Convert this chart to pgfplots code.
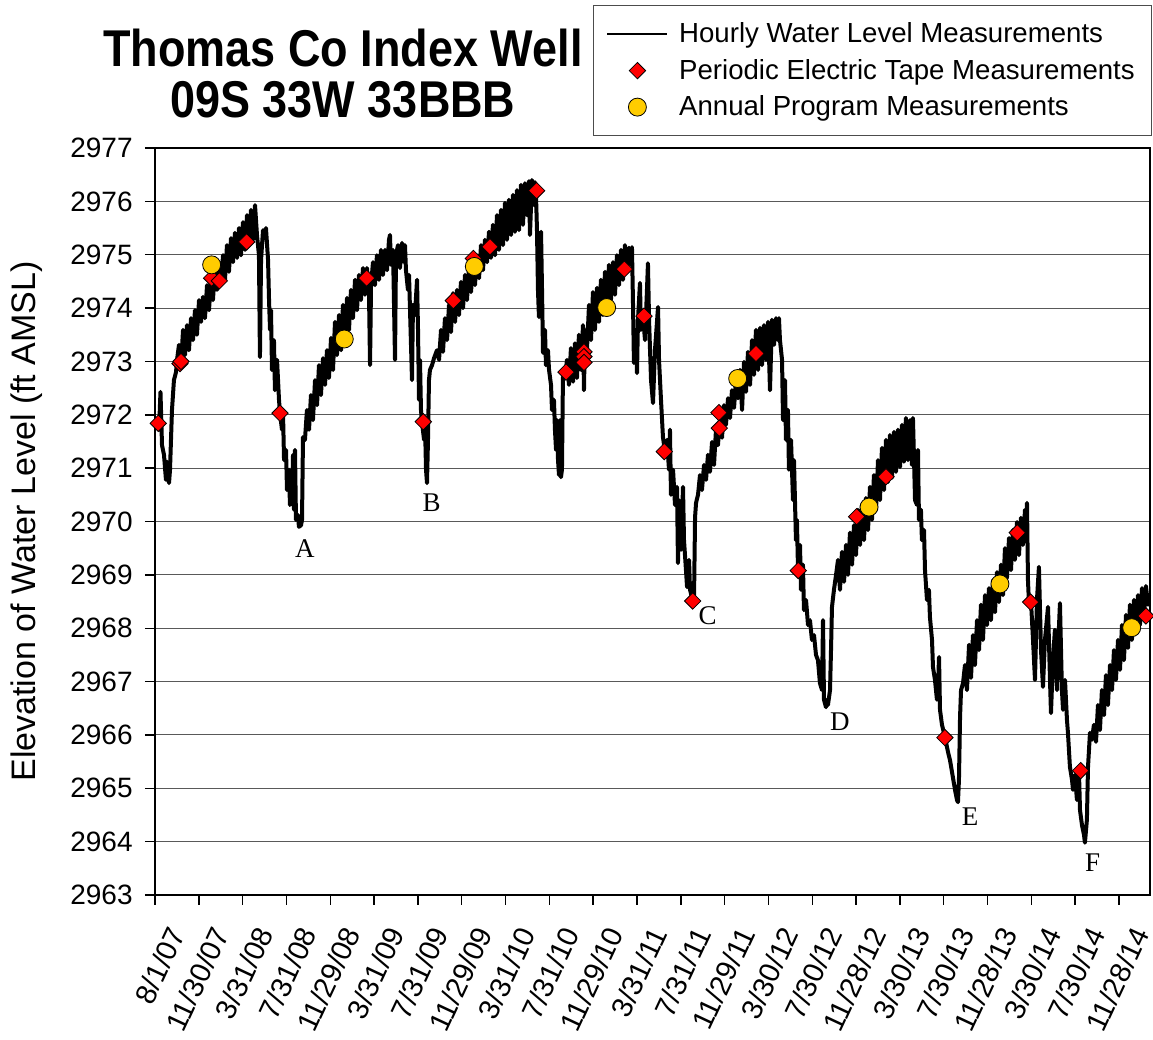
\documentclass[border=0pt]{standalone}
\usepackage{fontspec}
\setmainfont{Liberation Sans}
\newfontfamily\timesfont{Liberation Serif}
\usepackage{graphicx}
\usepackage{pgfplots}
\pgfplotsset{compat=1.18}
\definecolor{mkred}{RGB}{255,0,0}
\definecolor{mkyellow}{RGB}{255,204,0}
\pgfplotsset{
 mylinelegend/.style={legend image code/.code={\draw[black,line width=0.8pt] (0pt,0pt) -- (30pt,0pt);}},
 mymarklegend/.style={legend image code/.code={\draw[mark repeat=2,mark phase=2,##1] plot coordinates {(0pt,0pt) (15pt,0pt) (30pt,0pt)};}},
}
\begin{document}
\begin{tikzpicture}
\path[use as bounding box] (-77.5pt,-72.5pt) rectangle (499pt,447.5pt);
\begin{axis}[
 scale only axis, width=497.5pt, height=373.5pt,
 at={(0pt,0pt)}, anchor=south west,
 xmin=0, xmax=90.83, ymin=2963, ymax=2977,
 xtick={0,4,...,88},
 xticklabels={8/1/07,11/30/07,3/31/08,7/31/08,11/29/08,3/31/09,7/31/09,11/29/09,3/31/10,7/31/10,11/29/10,3/31/11,7/31/11,11/29/11,3/30/12,7/30/12,11/28/12,3/30/13,7/30/13,11/28/13,3/30/14,7/30/14,11/28/14},
 ytick={2963,2964,...,2977},
 tick align=outside, major tick length=5pt,
 xtick pos=left, ytick pos=left,
 ymajorgrids, grid style={black!65, line width=0.5pt},
 axis line style={line width=0.8pt},
 tick style={black, line width=0.7pt},
 /pgf/number format/assume math mode=true,
 /pgf/number format/1000 sep={},
 y tick label style={font=\fontsize{14}{16}\selectfont, inner sep=0pt, xshift=-6pt},
 x tick label style={font=\fontsize{14.5}{16}\selectfont, inner sep=0pt, xshift=6pt, yshift=-9.5pt, rotate=65, anchor=north east},
 ylabel={Elevation of Water Level (ft AMSL)},
 every axis y label/.style={at={(axis description cs:-0.1286,0.5)}, rotate=90, anchor=center, font=\fontsize{17}{20}\selectfont},
 clip=false,
 legend cell align=left,
 legend style={at={(axis description cs:0.4402,1.1914)}, anchor=north west,
   draw=black!70, line width=0.6pt, font=\fontsize{13.8}{16}\selectfont,
   inner xsep=6.5pt, inner ysep=6.5pt, row sep=2.75pt, column sep=3.5pt},
]
\node[font=\timesfont\fontsize{13.5}{16}\selectfont, fill=white, inner sep=0.5pt] at (axis cs:13.69,2969.50) {A};
\node[font=\timesfont\fontsize{13.5}{16}\selectfont, fill=white, inner sep=0.5pt] at (axis cs:25.25,2970.35) {B};
\node[font=\timesfont\fontsize{13.5}{16}\selectfont, fill=white, inner sep=0.5pt] at (axis cs:50.45,2968.23) {C};
\node[font=\timesfont\fontsize{13.5}{16}\selectfont, fill=white, inner sep=0.5pt] at (axis cs:62.53,2966.25) {D};
\node[font=\timesfont\fontsize{13.5}{16}\selectfont, fill=white, inner sep=0.5pt] at (axis cs:74.40,2964.47) {E};
\node[font=\timesfont\fontsize{13.5}{16}\selectfont, fill=white, inner sep=0.5pt] at (axis cs:85.60,2963.60) {F};

\addplot[black, line width=2pt, line join=round, mark=none, mylinelegend] coordinates {
(0.18,2971.90)(0.37,2971.72)(0.50,2972.43)(0.64,2971.43)(0.82,2971.25)(1.00,2970.78)(1.10,2971.12)(1.28,2970.72)(1.37,2970.97)(1.55,2972.09)(1.73,2972.65)(1.92,2972.80)(2.01,2973.03)(2.19,2973.31)(2.37,2972.93)(2.56,2973.59)(2.74,2973.12)(2.92,2973.68)(3.10,2973.21)(3.29,2973.81)(3.47,2973.40)(3.65,2973.96)(3.83,2973.50)(4.02,2974.15)(4.20,2973.74)(4.38,2974.21)(4.56,2973.81)(4.75,2974.43)(4.93,2973.96)(5.11,2974.53)(5.29,2974.15)(5.48,2974.75)(5.66,2974.34)(5.84,2974.86)(6.02,2974.43)(6.21,2974.99)(6.39,2974.53)(6.57,2975.18)(6.75,2974.68)(6.94,2975.31)(7.12,2974.86)(7.30,2975.41)(7.49,2974.94)(7.67,2975.50)(7.85,2974.99)(8.03,2975.61)(8.22,2975.09)(8.40,2975.74)(8.58,2975.18)(8.76,2975.84)(8.95,2975.28)(9.13,2975.93)(9.31,2975.37)(9.49,2974.99)(9.58,2973.08)(9.68,2974.90)(9.86,2975.46)(10.04,2975.31)(10.13,2975.50)(10.32,2974.90)(10.41,2974.15)(10.50,2973.59)(10.59,2973.96)(10.68,2972.84)(10.86,2973.40)(10.95,2972.46)(11.14,2973.03)(11.32,2972.28)(11.41,2972.03)(11.59,2971.72)(11.68,2972.09)(11.78,2971.15)(11.96,2971.34)(12.05,2970.59)(12.23,2970.97)(12.32,2970.31)(12.51,2970.40)(12.60,2971.25)(12.69,2970.22)(12.78,2971.34)(12.87,2970.03)(13.05,2970.12)(13.14,2969.90)(13.33,2969.93)(13.42,2970.03)(13.51,2971.58)(13.69,2971.53)(13.87,2972.09)(14.06,2971.72)(14.24,2972.37)(14.42,2971.90)(14.61,2972.65)(14.79,2972.18)(14.97,2972.93)(15.15,2972.37)(15.34,2973.06)(15.52,2972.56)(15.70,2973.21)(15.88,2972.69)(16.07,2973.44)(16.25,2972.84)(16.43,2973.74)(16.61,2973.12)(16.80,2973.87)(16.98,2973.21)(17.16,2974.06)(17.34,2973.40)(17.53,2974.19)(17.71,2973.59)(17.89,2974.34)(18.07,2973.81)(18.26,2974.53)(18.44,2973.96)(18.62,2974.62)(18.80,2974.15)(18.99,2974.75)(19.17,2974.25)(19.35,2974.75)(19.53,2974.34)(19.63,2972.93)(19.72,2974.43)(19.90,2974.86)(20.08,2974.43)(20.26,2974.99)(20.45,2974.53)(20.63,2975.09)(20.81,2974.62)(21.00,2975.09)(21.18,2974.71)(21.36,2975.28)(21.45,2975.37)(21.54,2974.81)(21.73,2975.09)(21.91,2973.03)(22.00,2974.99)(22.18,2975.18)(22.36,2974.75)(22.55,2975.22)(22.73,2974.86)(22.82,2975.18)(22.91,2974.71)(23.09,2974.34)(23.19,2974.62)(23.28,2973.96)(23.46,2972.65)(23.55,2974.06)(23.73,2973.87)(23.92,2974.53)(24.01,2973.59)(24.10,2972.28)(24.19,2973.03)(24.28,2972.09)(24.37,2971.87)(24.56,2971.53)(24.65,2971.81)(24.74,2970.97)(24.83,2970.72)(24.92,2971.53)(25.01,2972.65)(25.10,2972.84)(25.29,2972.93)(25.47,2973.06)(25.74,2973.21)(25.93,2973.03)(26.11,2973.59)(26.29,2973.18)(26.47,2973.81)(26.66,2973.40)(26.84,2974.06)(27.02,2973.55)(27.20,2974.28)(27.39,2973.74)(27.57,2974.34)(27.75,2973.87)(27.93,2974.49)(28.12,2974.00)(28.30,2974.62)(28.48,2974.15)(28.66,2974.75)(28.85,2974.30)(29.03,2974.86)(29.21,2974.43)(29.39,2974.99)(29.58,2974.56)(29.76,2975.18)(29.94,2974.71)(30.12,2975.28)(30.31,2974.86)(30.49,2975.43)(30.67,2974.94)(30.85,2975.56)(31.04,2974.99)(31.22,2975.74)(31.40,2975.09)(31.58,2975.84)(31.77,2975.18)(31.95,2975.97)(32.13,2975.28)(32.31,2976.03)(32.50,2975.37)(32.68,2976.12)(32.86,2975.43)(33.04,2976.21)(33.23,2975.46)(33.41,2976.31)(33.59,2975.56)(33.77,2976.34)(33.96,2975.74)(34.14,2976.38)(34.23,2975.37)(34.41,2976.40)(34.60,2975.93)(34.69,2976.36)(34.78,2976.12)(34.87,2975.46)(34.96,2974.34)(35.05,2973.83)(35.14,2975.09)(35.24,2975.43)(35.33,2974.34)(35.42,2973.16)(35.60,2973.59)(35.69,2972.93)(35.87,2973.21)(35.97,2972.84)(36.15,2972.56)(36.24,2972.09)(36.42,2972.28)(36.51,2971.72)(36.61,2971.34)(36.70,2971.90)(36.79,2971.15)(36.88,2970.87)(36.97,2971.90)(37.06,2970.83)(37.15,2970.97)(37.24,2972.71)(37.43,2972.69)(37.61,2973.03)(37.79,2972.56)(37.97,2973.25)(38.16,2972.62)(38.34,2973.34)(38.52,2972.69)(38.70,2973.50)(38.89,2972.84)(39.07,2973.68)(39.16,2972.46)(39.25,2973.59)(39.43,2973.21)(39.62,2974.06)(39.80,2973.40)(39.98,2974.30)(40.16,2973.59)(40.35,2974.38)(40.53,2973.74)(40.71,2974.53)(40.89,2973.87)(41.08,2974.68)(41.26,2973.96)(41.44,2974.81)(41.62,2974.15)(41.81,2974.86)(41.99,2974.25)(42.17,2974.99)(42.36,2974.43)(42.54,2975.09)(42.72,2974.53)(42.90,2975.18)(43.09,2974.71)(43.27,2975.13)(43.45,2974.81)(43.54,2975.14)(43.63,2974.15)(43.72,2972.97)(43.91,2973.59)(44.00,2972.78)(44.09,2973.78)(44.27,2974.47)(44.36,2973.59)(44.55,2973.85)(44.73,2973.40)(44.91,2974.34)(45.00,2974.84)(45.10,2973.78)(45.28,2972.65)(45.46,2972.22)(45.64,2973.21)(45.92,2974.02)(46.01,2973.03)(46.19,2972.28)(46.37,2971.58)(46.56,2971.30)(46.74,2971.53)(46.92,2970.97)(47.01,2971.72)(47.10,2970.50)(47.29,2970.97)(47.47,2970.31)(47.65,2970.65)(47.74,2969.22)(47.83,2970.40)(48.02,2969.47)(48.20,2970.65)(48.29,2969.65)(48.47,2969.09)(48.57,2968.77)(48.75,2969.28)(48.84,2968.72)(49.02,2968.57)(49.11,2968.51)(49.20,2968.47)(49.30,2970.08)(49.39,2970.35)(49.57,2970.50)(49.75,2970.87)(49.93,2970.59)(50.12,2971.06)(50.30,2970.78)(50.48,2971.25)(50.66,2970.93)(50.85,2971.49)(51.03,2971.06)(51.21,2971.72)(51.39,2971.43)(51.58,2971.94)(51.76,2971.57)(51.94,2972.18)(52.12,2971.81)(52.31,2972.31)(52.49,2971.94)(52.67,2972.46)(52.86,2972.13)(53.04,2972.69)(53.22,2972.31)(53.40,2972.84)(53.59,2972.09)(53.77,2972.99)(53.95,2972.43)(54.13,2973.18)(54.32,2972.56)(54.50,2973.40)(54.68,2972.75)(54.86,2973.59)(55.05,2972.84)(55.23,2973.63)(55.41,2972.93)(55.59,2973.68)(55.78,2973.03)(55.96,2973.74)(56.14,2972.46)(56.32,2973.78)(56.51,2973.31)(56.69,2973.81)(56.87,2973.40)(56.96,2973.81)(57.05,2973.40)(57.24,2973.03)(57.33,2971.90)(57.51,2972.65)(57.60,2971.53)(57.78,2972.09)(57.87,2970.97)(58.06,2971.53)(58.24,2970.40)(58.33,2971.15)(58.51,2969.65)(58.60,2970.03)(58.70,2969.07)(58.88,2969.56)(58.97,2968.72)(59.15,2969.19)(59.24,2968.34)(59.43,2968.53)(59.61,2968.06)(59.79,2968.15)(59.97,2967.78)(60.16,2967.87)(60.34,2967.50)(60.52,2967.40)(60.70,2966.97)(60.89,2966.84)(60.98,2968.15)(61.07,2966.66)(61.25,2966.52)(61.34,2966.66)(61.43,2966.56)(61.62,2966.84)(61.71,2967.59)(61.80,2968.40)(61.98,2968.72)(62.17,2969.00)(62.35,2969.28)(62.53,2968.72)(62.71,2969.43)(62.90,2968.87)(63.08,2969.56)(63.26,2969.00)(63.44,2969.79)(63.63,2969.19)(63.81,2969.93)(63.99,2969.37)(64.17,2970.22)(64.36,2969.56)(64.54,2970.31)(64.72,2969.65)(64.90,2970.44)(65.09,2969.84)(65.27,2970.65)(65.45,2970.03)(65.63,2970.87)(65.82,2970.22)(66.00,2971.15)(66.18,2970.40)(66.36,2971.38)(66.55,2970.59)(66.73,2971.53)(66.91,2970.74)(67.09,2971.62)(67.28,2970.82)(67.46,2971.68)(67.64,2970.93)(67.82,2971.72)(68.01,2971.02)(68.19,2971.81)(68.37,2971.12)(68.55,2971.94)(68.74,2971.15)(68.92,2971.90)(69.10,2971.06)(69.19,2971.94)(69.29,2971.15)(69.38,2970.40)(69.56,2970.31)(69.65,2971.34)(69.74,2970.03)(69.92,2970.22)(70.01,2969.65)(70.20,2969.84)(70.29,2969.09)(70.47,2968.53)(70.65,2968.72)(70.74,2968.21)(70.93,2967.78)(71.02,2967.27)(71.20,2967.03)(71.38,2966.66)(71.47,2966.84)(71.57,2967.46)(71.66,2966.47)(71.84,2966.19)(72.11,2965.96)(72.39,2965.68)(72.57,2965.53)(72.85,2965.19)(73.03,2964.97)(73.21,2964.78)(73.30,2964.74)(73.39,2965.16)(73.49,2966.34)(73.58,2966.84)(73.76,2966.97)(73.94,2967.31)(74.12,2966.84)(74.31,2967.69)(74.49,2967.07)(74.67,2967.87)(74.85,2967.31)(75.04,2968.15)(75.22,2967.59)(75.40,2968.44)(75.58,2967.78)(75.77,2968.62)(75.95,2968.06)(76.13,2968.75)(76.31,2968.15)(76.50,2968.90)(76.68,2968.30)(76.86,2969.05)(77.04,2968.49)(77.23,2969.19)(77.41,2968.62)(77.59,2969.50)(77.77,2968.94)(77.96,2969.69)(78.14,2969.09)(78.32,2969.84)(78.50,2969.28)(78.69,2969.99)(78.87,2969.37)(79.05,2970.07)(79.23,2969.56)(79.42,2970.22)(79.51,2969.65)(79.60,2970.35)(79.69,2968.90)(79.78,2968.47)(79.96,2968.53)(80.15,2967.78)(80.33,2967.03)(80.51,2968.53)(80.69,2969.15)(80.88,2967.59)(81.06,2966.90)(81.24,2967.78)(81.52,2968.40)(81.70,2967.03)(81.79,2966.41)(81.97,2967.40)(82.15,2967.97)(82.34,2966.84)(82.43,2967.59)(82.61,2968.47)(82.79,2966.84)(82.89,2966.47)(83.07,2967.03)(83.25,2966.28)(83.34,2966.04)(83.52,2965.40)(83.71,2965.16)(83.80,2964.97)(83.98,2965.25)(84.16,2964.78)(84.34,2965.34)(84.44,2964.59)(84.62,2964.31)(84.80,2964.13)(84.89,2963.98)(85.07,2964.41)(85.17,2965.40)(85.35,2966.04)(85.53,2965.91)(85.71,2966.19)(85.90,2965.87)(86.08,2966.56)(86.26,2966.09)(86.44,2966.84)(86.63,2966.37)(86.81,2967.12)(86.99,2966.56)(87.18,2967.31)(87.36,2966.84)(87.54,2967.59)(87.72,2967.03)(87.91,2967.78)(88.09,2967.22)(88.27,2968.06)(88.45,2967.40)(88.64,2968.25)(88.82,2967.63)(89.00,2968.44)(89.18,2967.78)(89.37,2968.53)(89.55,2967.93)(89.73,2968.62)(89.91,2968.06)(90.10,2968.75)(90.28,2968.25)(90.46,2968.79)(90.65,2968.44)(90.74,2968.62)
};
\addlegendentry{Hourly Water Level Measurements}

\addplot[only marks, mark=square*, mark size=2.9pt,
 mark options={rotate=45, fill=mkred, draw=black, line width=0.4pt}, mymarklegend] coordinates {
(0.30,2971.84)(2.28,2972.96)(2.37,2973.00)(5.17,2974.56)(5.87,2974.51)(8.37,2975.24)(11.41,2972.03)(19.32,2974.56)(24.49,2971.87)(27.23,2974.14)(29.06,2974.93)(30.58,2975.15)(34.84,2976.20)(37.52,2972.80)(39.16,2973.18)(39.16,2973.09)(39.16,2972.98)(42.84,2974.73)(44.64,2973.85)(46.49,2971.31)(49.08,2968.51)(51.48,2972.04)(51.51,2971.75)(54.86,2973.15)(58.72,2969.08)(64.05,2970.09)(66.73,2970.84)(72.11,2965.95)(78.71,2969.79)(79.93,2968.49)(84.50,2965.33)(90.46,2968.23)
};
\addlegendentry{Periodic Electric Tape Measurements}

\addplot[only marks, mark=*, mark size=4.5pt,
 mark options={fill=mkyellow, draw=black, line width=0.4pt}, mymarklegend] coordinates {
(5.17,2974.81)(17.28,2973.42)(29.15,2974.78)(41.23,2974.01)(53.19,2972.68)(65.18,2970.27)(77.13,2968.83)(89.16,2968.01)
};
\addlegendentry{Annual Program Measurements}
\end{axis}
\node[font=\bfseries\fontsize{22.5}{27}\selectfont] at (94pt,423.5pt) {\scalebox{1}[1.15]{Thomas Co Index Well}};
\node[font=\bfseries\fontsize{22.5}{27}\selectfont] at (94pt,397.5pt) {\scalebox{1}[1.15]{09S 33W 33BBB}};
\end{tikzpicture}
\end{document}
